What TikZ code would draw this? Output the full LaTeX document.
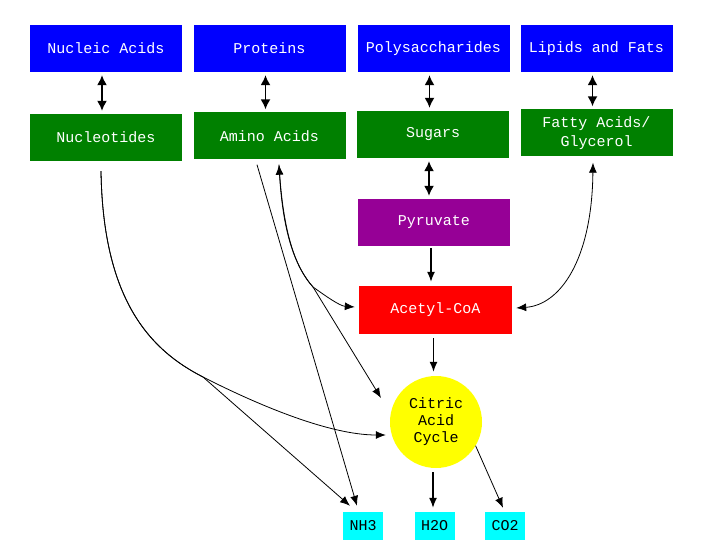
\documentclass[tikz,border=0pt]{standalone}
\usepackage{fontspec}
\setmonofont{Liberation Mono}
\usetikzlibrary{arrows.meta}

\definecolor{polyblue}{RGB}{0,0,255}
\definecolor{unitgreen}{RGB}{0,128,0}
\definecolor{pyrpurple}{RGB}{150,0,150}
\definecolor{coared}{RGB}{255,0,0}
\definecolor{cycleyellow}{RGB}{255,255,0}
\definecolor{wastecyan}{RGB}{0,255,255}

\tikzset{
    molbox/.style={minimum width=152pt, minimum height=47pt, inner sep=0pt,
        text=white, align=center, font=\ttfamily\fontsize{15}{19}\selectfont},
    wastebox/.style={minimum width=40pt, minimum height=28pt, inner sep=0pt,
        fill=wastecyan, font=\ttfamily\fontsize{15}{19}\selectfont},
    dbl/.style={{Latex[length=10pt,width=10pt]}-{Latex[length=10pt,width=10pt]},
        line width=1.5pt, shorten <=3pt, shorten >=3pt},
    flow/.style={-{Latex[length=10pt,width=8pt]}, line width=0.8pt},
    bothflow/.style={{Latex[length=10pt,width=8pt]}-{Latex[length=10pt,width=8pt]}, line width=0.8pt}
}

\begin{document}
\begin{tikzpicture}[x=1pt, y=1pt]
        \useasboundingbox (0,0) rectangle (720,-540);
        \fill[white] (0,0) rectangle (720,-540);

        % polymers and their units
        \foreach \t/\x [count=\i] in {Nucleic Acids/106, Proteins/269.5, Polysaccharides/433.5, Lipids and Fats/596.5} {
            \node[molbox, fill=polyblue] (poly\i) at (\x, -48.5) {\t};
        }
        \foreach \t/\x/\y [count=\i] in {Nucleotides/106/-137.5, Amino Acids/269.5/-136, Sugars/433/-134.5, {Fatty Acids/\\Glycerol}/596.5/-133} {
            \node[molbox, fill=unitgreen] (unit\i) at (\x, \y) {\t};
            \draw[dbl] ([xshift=-4pt]poly\i.south) -- ([xshift=-4pt]poly\i.south |- unit\i.north);
        }

        \node[molbox, fill=pyrpurple] (pyr) at (434, -222.5) {Pyruvate};
        \node[molbox, fill=coared, minimum width=153pt, minimum height=48pt] (acoa) at (435.5, -310) {Acetyl-CoA};
        \node[circle, fill=cycleyellow, minimum size=92pt, inner sep=0pt, align=center,
            font=\ttfamily\fontsize{15}{17}\selectfont] (cac) at (436, -422) {Citric\\Acid\\Cycle};

        \node[wastebox] (nh) at (363, -526) {NH3};
        \node[wastebox] (ho) at (434.5, -526) {H2O};
        \node[wastebox] (co) at (505, -526) {CO2};

        \draw[dbl] ([xshift=-4pt]unit3.south) -- ([xshift=-4pt]unit3.south |- pyr.north);
        \draw[flow, line width=1.4pt, shorten <=2pt, shorten >=4pt] ([xshift=-3pt]pyr.south) -- ([xshift=-3pt]pyr.south |- acoa.north);
        \draw[flow, line width=1.4pt, shorten <=4pt, shorten >=4pt] ([xshift=-2pt]acoa.south) -- ([xshift=-2pt]acoa.south |- cac.north);
        \draw[flow, line width=1.4pt, shorten <=4pt, shorten >=4pt] ([xshift=-3pt]cac.south) -- ([xshift=-3pt]cac.south |- ho.north);
        \draw[flow] (cac.-31) -- ([shift={(-2pt,4pt)}]co.north);

        % nucleotides
        \coordinate (nsplit) at (203, -377);
        \draw[flow] ([shift={(-5pt,-10pt)}]unit1.south) .. controls (103,-300) and (150,-350) .. (nsplit)
            .. controls (260,-406) and (330,-435) .. ([shift={(-4pt,-13pt)}]cac.west);
        \draw[flow] ([shift={(-5pt,-10pt)}]unit1.south) .. controls (103,-300) and (150,-350) .. (nsplit)
            -- ([shift={(-13pt,6pt)}]nh.north);

        % amino acids
        \coordinate (asplit) at (313, -287);
        \draw[flow] ([shift={(-12.5pt,-5pt)}]unit2.south) -- ([shift={(-6pt,6pt)}]nh.north);
        \draw[bothflow] ([shift={(9.5pt,-5pt)}]unit2.south) .. controls (283,-235) and (296,-268) .. (asplit)
            .. controls (327,-297) and (340,-306) .. ([shift={(-4pt,3pt)}]acoa.west);
        \draw[flow] ([shift={(9.5pt,-5pt)}]unit2.south) .. controls (283,-235) and (296,-268) .. (asplit)
            -- ([shift={(-55pt,24pt)}]cac.center);

        % fatty acids
        \draw[bothflow] ([shift={(-3.5pt,-6pt)}]unit4.south) .. controls (592,-260) and (560,-305) .. ([shift={(4pt,2pt)}]acoa.east);
    \end{tikzpicture}
\end{document}
